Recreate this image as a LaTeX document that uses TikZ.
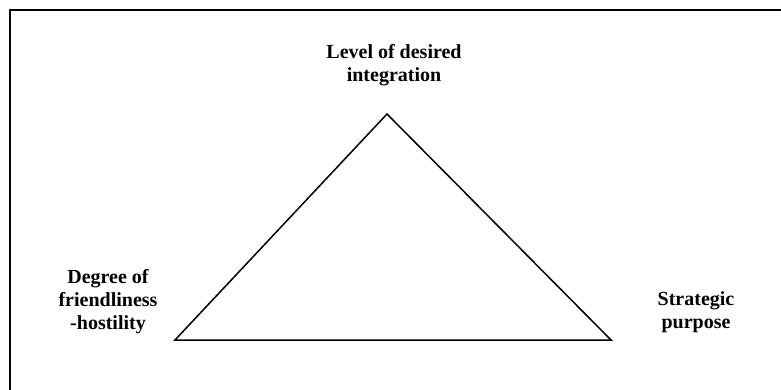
\documentclass[tikz,border=0pt]{standalone}
\usepackage{fontspec}
\setmainfont{Liberation Serif}
\begin{document}
\begin{tikzpicture}[x=1pt,y=-1pt,
  lbl/.style={font=\fontsize{20}{23}\selectfont\bfseries, align=center, inner sep=0pt},
  frame/.style={line width=2pt},
  tri/.style={line width=1.5pt, line join=miter}]
\useasboundingbox (0,0) rectangle (781,390);
\draw[frame] (10,390) -- (10,10) -- (781,10);
\coordinate (top) at (387,114);
\coordinate (left) at (175,340);
\coordinate (right) at (611,340);
\draw[tri] (left) -- (top) -- (right) -- cycle;
\node[lbl] (integ) at (394,65) {Level of desired\\integration};
\node[lbl] (friend) at (108,302) {Degree of\\friendliness\\-hostility};
\node[lbl] (strat) at (696,312) {Strategic\\purpose};
\end{tikzpicture}
\end{document}
